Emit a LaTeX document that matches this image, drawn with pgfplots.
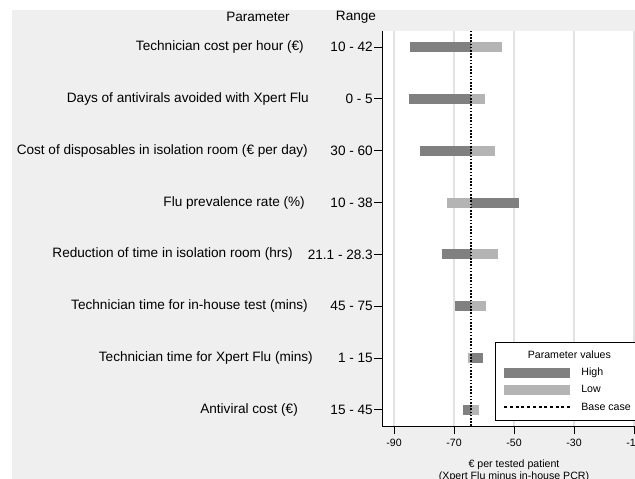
\documentclass[border=0pt]{standalone}
\usepackage{pgfplots}
\pgfplotsset{compat=1.18}
\usepackage{fontspec}
\setmainfont{Liberation Sans}
\definecolor{bgc}{HTML}{EFEFEF}
\definecolor{gridc}{HTML}{E3E3E3}
\definecolor{darkbar}{HTML}{808080}
\definecolor{lightbar}{HTML}{B4B4B4}
\newcommand{\bigfnt}{\fontsize{13.6bp}{16bp}\selectfont}
\newcommand{\smallfnt}{\fontsize{10.6bp}{11.5bp}\selectfont}
\begin{document}
\begin{tikzpicture}[x=1bp,y=1bp]
\useasboundingbox (0,0) rectangle (635,-479);
\clip (0,0) rectangle (635,-479);
\fill[bgc] (12,-10) rectangle (660,-500);
\begin{axis}[
  at={(382bp,-426bp)}, anchor=south west,
  scale only axis, width=264bp, height=395bp,
  xmin=-94, xmax=-6, ymin=0.69, ymax=8.31,
  axis x line*=bottom, axis y line*=left,
  axis line style={black, line width=0.9bp, -},
  axis background/.style={fill=white},
  xtick={-90,-70,-50,-30,-10}, xticklabels={-90,-70,-50,-30,-10},
  ytick={1,2,3,4,5,6,7,8},
  yticklabels={15 - 45, 1 - 15, 45 - 75, 21.1 - 28.3, 10 - 38, 30 - 60, 0 - 5, 10 - 42},
  tick align=outside, major tick length=8bp,
  tick style={black, line width=0.9bp},
  xmajorgrids, major grid style={gridc, line width=1.3bp},
  yticklabel style={font=\bigfnt, inner xsep=1bp},
  xticklabel style={font=\smallfnt, yshift=-2bp},
  xlabel={€ per tested patient\\(Xpert Flu minus in-house PCR)},
  xlabel style={align=center, font=\smallfnt, yshift=-6bp},
  legend style={at={(rel axis cs:0.428,0.2127)}, anchor=north west, draw=black, line width=0.7bp, fill=white,
    font=\smallfnt, inner xsep=4bp, inner ysep=8bp, row sep=6.8bp, column sep=6bp,
    nodes={inner sep=0pt, text height=8bp, text depth=2.5bp}},
  legend cell align=left,
]
\addlegendimage{empty legend}
\addlegendentry{\makebox[0pt][l]{\hspace*{-54bp}Parameter values}}
% High values (dark)
\addplot[darkbar, line width=10bp, legend image code/.code={\draw[line width=10bp] (0bp,0bp) -- (66bp,0bp);}] coordinates {(-84.6,8) (-64.3,8)};
\addlegendentry{High}
\addplot[darkbar, line width=10bp, forget plot] coordinates {(-85.1,7) (-64.3,7)};
\addplot[darkbar, line width=10bp, forget plot] coordinates {(-81.3,6) (-64.3,6)};
\addplot[darkbar, line width=10bp, forget plot] coordinates {(-64.3,5) (-48.2,5)};
\addplot[darkbar, line width=10bp, forget plot] coordinates {(-74.0,4) (-64.3,4)};
\addplot[darkbar, line width=10bp, forget plot] coordinates {(-69.8,3) (-64.3,3)};
\addplot[darkbar, line width=10bp, forget plot] coordinates {(-64.3,2) (-60.2,2)};
\addplot[darkbar, line width=10bp, forget plot] coordinates {(-66.9,1) (-64.3,1)};
% Low values (light)
\addplot[lightbar, line width=10bp, legend image code/.code={\draw[line width=10bp] (0bp,0bp) -- (66bp,0bp);}] coordinates {(-64.3,8) (-54.1,8)};
\addlegendentry{Low}
\addplot[lightbar, line width=10bp, forget plot] coordinates {(-64.3,7) (-59.6,7)};
\addplot[lightbar, line width=10bp, forget plot] coordinates {(-64.3,6) (-56.2,6)};
\addplot[lightbar, line width=10bp, forget plot] coordinates {(-72.2,5) (-64.3,5)};
\addplot[lightbar, line width=10bp, forget plot] coordinates {(-64.3,4) (-55.2,4)};
\addplot[lightbar, line width=10bp, forget plot] coordinates {(-64.3,3) (-59.3,3)};
\addplot[lightbar, line width=10bp, forget plot] coordinates {(-65.2,2) (-64.3,2)};
\addplot[lightbar, line width=10bp, forget plot] coordinates {(-64.3,1) (-61.8,1)};
% Base case
\addplot[black, line width=1.8bp, dash pattern=on 1.6bp off 1.6bp,
  legend image code/.code={\draw[black, line width=2bp, dash pattern=on 3bp off 2.7bp] (0bp,0bp) -- (66bp,0bp);}]
  coordinates {(-64.3,0.69) (-64.3,8.31)};
\addlegendentry{Base case}
\end{axis}
\begin{scope}[every node/.style={font=\bigfnt, inner sep=0pt}]
\node at (258,-17) {Parameter};
\node at (356,-17) {Range};
\node[anchor=east] at (304,-47) {Technician cost per hour (€)};
\node[anchor=east] at (309,-98.8) {Days of antivirals avoided with Xpert Flu};
\node[anchor=east] at (308,-150.7) {Cost of disposables in isolation room (€ per day)};
\node[anchor=east] at (305,-202.5) {Flu prevalence rate (\%)};
\node[anchor=east] at (293,-254.4) {Reduction of time in isolation room (hrs)};
\node[anchor=east] at (308,-306.2) {Technician time for in-house test (mins)};
\node[anchor=east] at (313,-358.0) {Technician time for Xpert Flu (mins)};
\node[anchor=east] at (298,-409.9) {Antiviral cost (€)};
\end{scope}
\end{tikzpicture}
\end{document}
